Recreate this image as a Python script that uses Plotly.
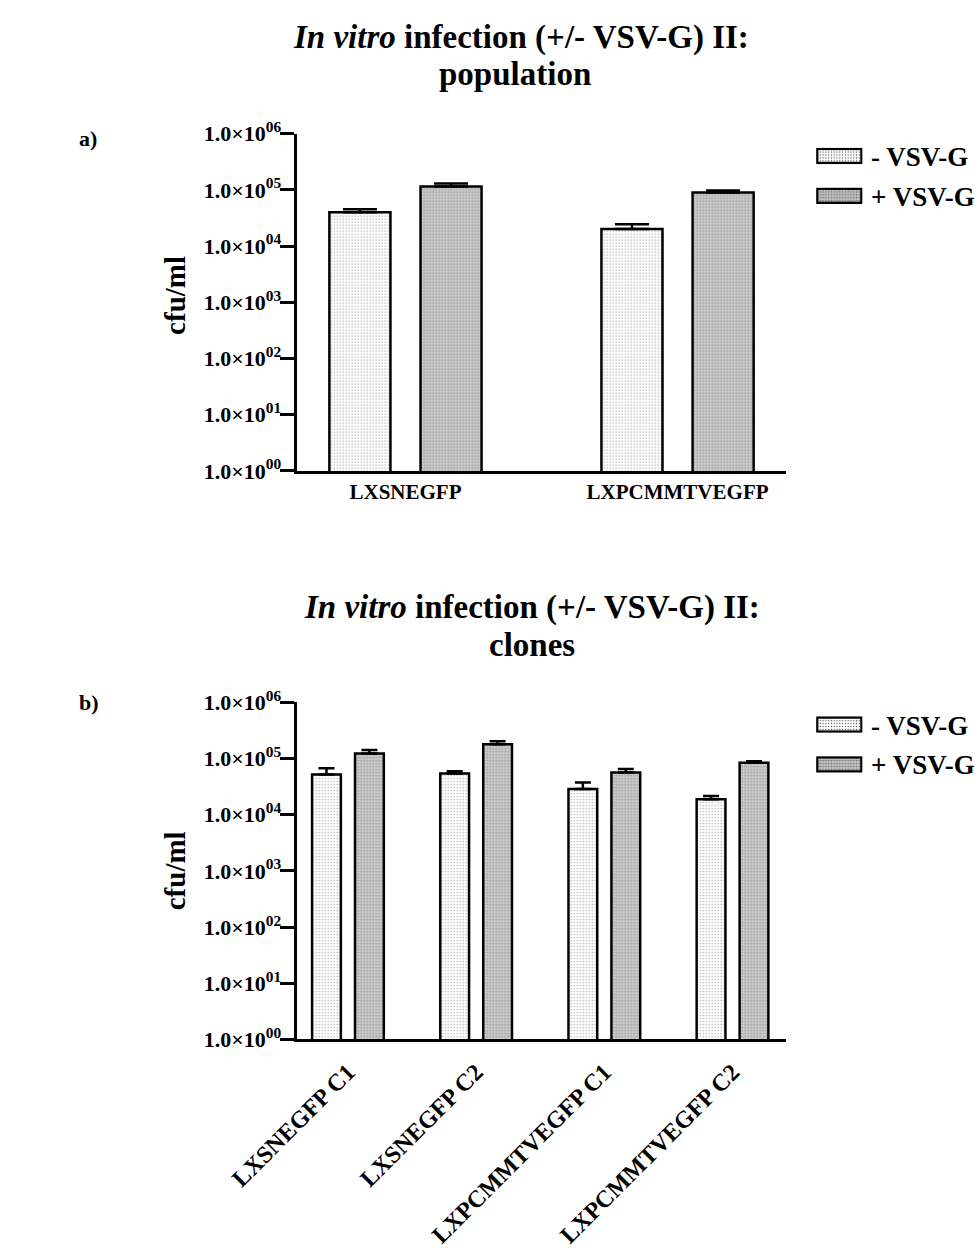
import base64
import plotly.graph_objects as go

# ---- data -------------------------------------------------------------
series_names = ["- VSV-G", "+ VSV-G"]

pop_categories = ["LXSNEGFP", "LXPCMMTVEGFP"]
pop_minus = [4.0e4, 2.0e4]
pop_minus_err = [5.0e3, 4.5e3]
pop_plus = [1.14e5, 9.0e4]
pop_plus_err = [1.6e4, 7.0e3]

clone_categories = ["LXSNEGFP C1", "LXSNEGFP C2", "LXPCMMTVEGFP C1", "LXPCMMTVEGFP C2"]
clone_minus = [5.2e4, 5.4e4, 2.85e4, 1.88e4]
clone_minus_err = [1.5e4, 5.0e3, 8.6e3, 2.7e3]
clone_plus = [1.22e5, 1.79e5, 5.6e4, 8.4e4]
clone_plus_err = [1.9e4, 2.3e4, 8.8e3, 4.6e3]

tick_values = [1, 10, 100, 1e3, 1e4, 1e5, 1e6]
tick_labels = ["1.0×10<sup>0%d</sup>" % i for i in range(7)]

# ---- style ------------------------------------------------------------
FONT = "Liberation Serif"
W, H = 975, 1248

PATTERNS = {
    "- VSV-G": dict(color="white", pattern=dict(shape=".", size=3, solidity=0.16,
                                                 fgcolor="#4a4a4a", bgcolor="white")),
    "+ VSV-G": dict(color="#cdcdcd", pattern=dict(shape=".", size=3, solidity=0.42,
                                                   fgcolor="#777777", bgcolor="#cfcfcf")),
}


def px_x(v):
    return v / W


def px_y(v):
    return 1 - v / H


fig = go.Figure()


def add_group(cats, values, errs, name, xa, ya, cap):
    st = PATTERNS[name]
    fig.add_trace(go.Bar(
        x=cats, y=values, name=name, xaxis=xa, yaxis=ya, showlegend=False,
        marker=dict(color=st["color"], pattern=st["pattern"],
                    line=dict(color="black", width=2.5)),
        error_y=dict(type="data", symmetric=False, array=errs,
                     arrayminus=[0] * len(errs), color="black",
                     thickness=2.5, width=cap),
    ))


add_group(pop_categories, pop_minus, pop_minus_err, series_names[0], "x", "y", 17)
add_group(pop_categories, pop_plus, pop_plus_err, series_names[1], "x", "y", 17)
add_group(clone_categories, clone_minus, clone_minus_err, series_names[0], "x2", "y2", 8)
add_group(clone_categories, clone_plus, clone_plus_err, series_names[1], "x2", "y2", 8)

x_dom = [px_x(245), px_x(772)]
dom_a = [px_y(468), px_y(121)]
dom_b = [px_y(1053), px_y(706)]

yaxis_common = dict(
    type="log", range=[0, 6], tickvals=tick_values, ticktext=tick_labels,
    showline=True, linecolor="black", linewidth=3, ticks="outside",
    ticklen=14, tickwidth=3, tickcolor="black", showgrid=False, zeroline=False,
    ticklabelstandoff=-6,
    tickfont=dict(family=FONT, size=22, color="black", weight="bold"),
)
xaxis_common = dict(
    showline=True, linecolor="black", linewidth=3, ticks="", showgrid=False,
    zeroline=False,
)

fig.update_layout(
    width=W, height=H, margin=dict(l=0, r=0, t=0, b=0),
    paper_bgcolor="white", plot_bgcolor="white",
    barmode="group", bargap=0.33, bargroupgap=0.33,
    font=dict(family=FONT, color="black"),
    xaxis=dict(domain=x_dom, anchor="y", range=[-0.4, 1.4],
               tickfont=dict(family=FONT, size=21, color="black", weight="bold"),
               **xaxis_common),
    yaxis=dict(domain=dom_a, anchor="x", **yaxis_common),
    xaxis2=dict(domain=x_dom, anchor="y2", range=[-0.4, 3.42], tickangle=-45,
                ticklabelstandoff=6,
                tickfont=dict(family=FONT, size=24, color="black", weight="bold"),
                **xaxis_common),
    yaxis2=dict(domain=dom_b, anchor="x2", **yaxis_common),
)


def label(text, x, y, size, xanchor="center", angle=0):
    fig.add_annotation(text=text, x=px_x(x), y=px_y(y), xref="paper", yref="paper",
                       xanchor=xanchor, yanchor="middle", showarrow=False,
                       align="center", textangle=angle,
                       font=dict(family=FONT, size=size, color="black"))


# ---- titles, panel letters, axis titles --------------------------------
label("<b><i>In vitro</i> infection (+/- VSV-G) II:</b>", 486, 22, 33)
label("<b>population</b>", 480, 60, 33)
label("<b><i>In vitro</i> infection (+/- VSV-G) II:</b>", 498, 609, 33)
label("<b>clones</b>", 498, 647, 33)

label("<b>a)</b>", 9, 126, 22, xanchor="left")
label("<b>b)</b>", 9, 706, 22, xanchor="left")

label("<b>cfu/ml</b>", 114, 287, 29, angle=-90)
label("<b>cfu/ml</b>", 114, 879, 29, angle=-90)


# ---- legends: patterned swatches + labels -------------------------------
def swatch_uri(fill, fg, r):
    svg = (
        "<svg xmlns='http://www.w3.org/2000/svg' width='50' height='17'>"
        "<defs><pattern id='p' width='3' height='3' patternUnits='userSpaceOnUse'>"
        f"<rect width='3' height='3' fill='{fill}'/>"
        f"<circle cx='1.5' cy='1.5' r='{r}' fill='{fg}'/></pattern></defs>"
        "<rect x='1.25' y='1.25' width='47.5' height='14.5' fill='url(#p)' "
        "stroke='black' stroke-width='2.5'/></svg>"
    )
    return "data:image/svg+xml;base64," + base64.b64encode(svg.encode()).decode()


swatches = {
    "- VSV-G": swatch_uri("white", "#4a4a4a", 0.68),
    "+ VSV-G": swatch_uri("#cfcfcf", "#777777", 1.1),
}

images = []
for top in (121, 706):
    for i, name in enumerate(series_names):
        yc = top + 23 + 41 * i
        images.append(dict(source=swatches[name], xref="paper", yref="paper",
                           x=px_x(804), y=px_y(yc - 8.5), sizex=px_x(50),
                           sizey=17 / H, xanchor="left", yanchor="top",
                           sizing="stretch", layer="above"))
        label("<b>" + name + "</b>", 861, yc + 1, 27, xanchor="left")
fig.update_layout(images=images)

fig.write_html("out.html")
